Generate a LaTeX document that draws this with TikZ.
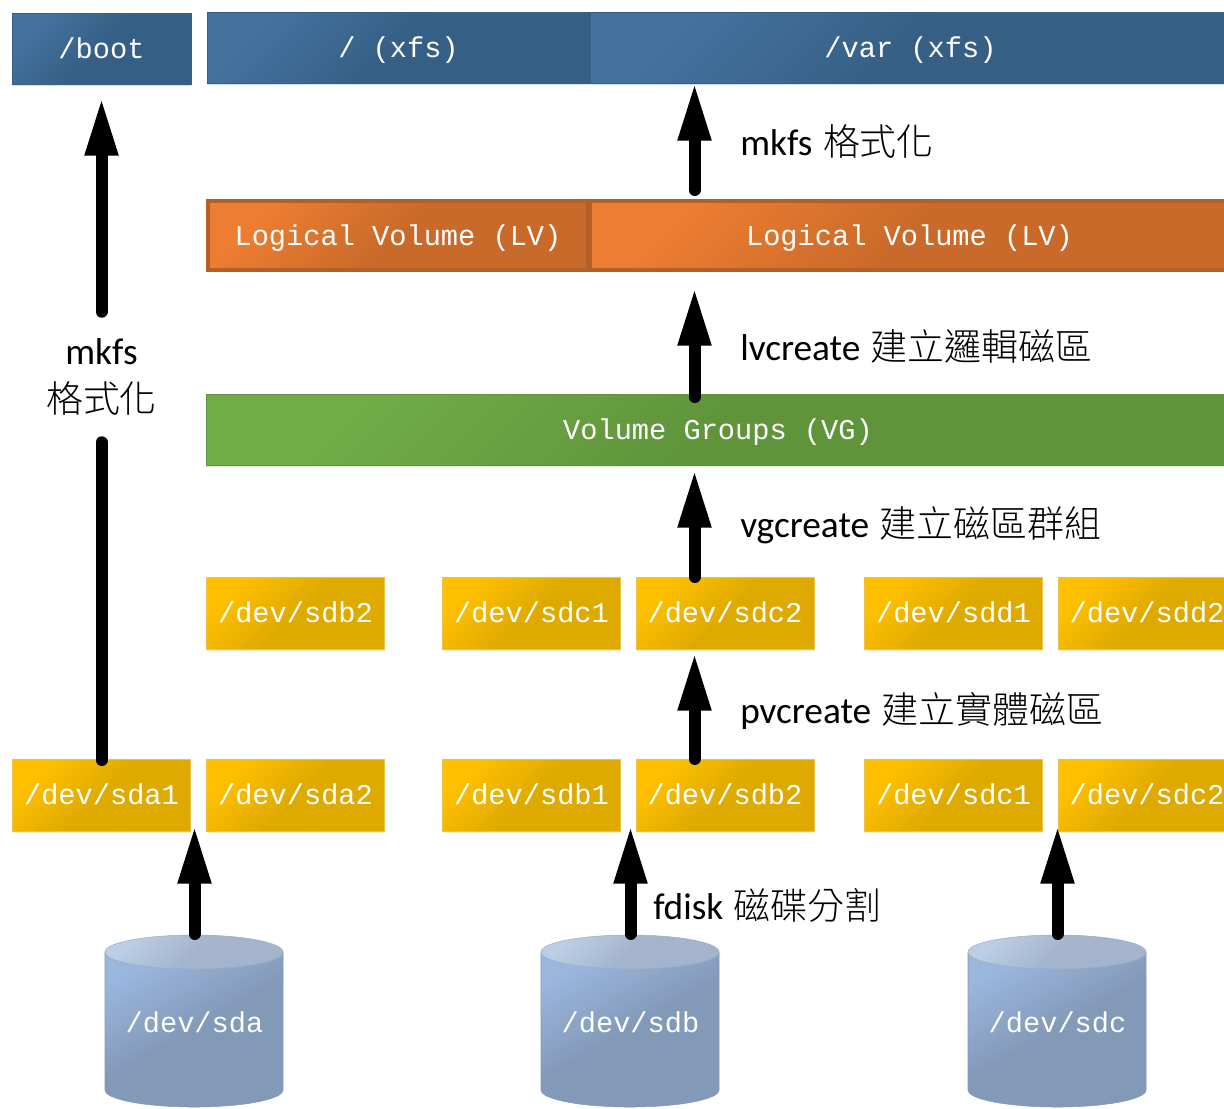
\documentclass[tikz,border=0pt]{standalone}
\usepackage{fontspec}
\setmainfont{Carlito}
\newfontfamily\monofont{Liberation Mono}
\newfontfamily\cjk{Noto Sans CJK TC Light}
\newcommand{\zh}[1]{\hspace{1.5pt}{\cjk\fontsize{27.7}{33}\selectfont #1}}
\usetikzlibrary{arrows.meta}
\usetikzlibrary{shadows}

\definecolor{BlueLight}{HTML}{44729F}
\definecolor{BlueDark}{HTML}{355F85}
\definecolor{OrangeLight}{HTML}{ED7D31}
\definecolor{OrangeDark}{HTML}{C96A2A}
\definecolor{OrangeEdge}{HTML}{B25F28}
\definecolor{GreenLight}{HTML}{70AD47}
\definecolor{GreenDark}{HTML}{5F943B}
\definecolor{YellowLight}{HTML}{FFC000}
\definecolor{YellowDark}{HTML}{DFAA00}
\definecolor{DiskLight}{HTML}{9AB6DD}
\definecolor{DiskDark}{HTML}{8399B8}
\definecolor{DiskTopLight}{HTML}{BCCEE6}
\definecolor{DiskTopDark}{HTML}{A3B4CC}

\tikzset{
    boxtext/.style = {text = white, inner sep = 0pt, text height = 14.5pt, text depth = 0pt, font = \monofont\fontsize{21.5}{25}\selectfont},
    softshadow/.style = {drop shadow = {shadow xshift = 0pt, shadow yshift = -1.5pt, opacity = 0.2, fill = #1}},
    fsbox/.style = {boxtext, softshadow = BlueDark, draw = BlueDark, top color = BlueLight, bottom color = BlueDark, middle color = BlueDark, shading angle = 45, minimum height = 53pt},
    lvbox/.style = {boxtext, softshadow = OrangeDark, draw = OrangeEdge, line width = 3pt, top color = OrangeLight, bottom color = OrangeDark, middle color = OrangeDark, shading angle = 45, minimum height = 52pt},
    vgbox/.style = {boxtext, softshadow = GreenDark, draw = GreenDark, top color = GreenLight, bottom color = GreenDark, middle color = GreenDark, shading angle = 45, minimum height = 53pt},
    partbox/.style = {boxtext, softshadow = YellowDark, draw = YellowDark!70!white, top color = YellowLight, bottom color = YellowDark, middle color = YellowDark, shading angle = 45, minimum width = 133.5pt, minimum height = 54pt},
    diskbody/.style = {draw = DiskDark, top color = DiskLight, bottom color = DiskDark, middle color = DiskDark, shading angle = 30},
    disktop/.style = {draw = DiskDark!80!white, top color = DiskTopLight, bottom color = DiskTopDark, middle color = DiskTopDark, shading angle = 45},
    disktext/.style = {boxtext},
    steplabel/.style = {anchor = west, inner sep = 0pt, font = \fontsize{28}{33}\selectfont},
    bigline/.style = {line width = 9pt, line cap = round},
    bigarrow/.style = {bigline, -{Triangle[length = 41pt, width = 26pt, line width = 0pt]}}
}

\begin{document}
\begin{tikzpicture}[x = 0.75pt, y = -0.75pt]
    \clip (0, 0) rectangle (1224, 1108);
    \fill [white] (0, 0) rectangle (1224, 1108);

    % file systems
    \node [fsbox, minimum width = 134pt] (boot) at (101.5, 49) {/boot};
    \node [fsbox, minimum width = 287pt] (root) at (398.5, 47.5) {/ (xfs)};
    \node [fsbox, minimum width = 480pt] (var) at (910.5, 47.5) {/var (xfs)};

    % logical volumes and the volume group
    \node [lvbox, minimum width = 285pt] (lvroot) at (398, 235.5) {Logical Volume (LV)\hspace{6pt}};
    \node [lvbox, minimum width = 480pt] (lvvar) at (909.5, 235.5) {Logical Volume (LV)};
    \node [vgbox, minimum width = 768pt] (vg) at (718, 429.5) {Volume Groups (VG)};

    % physical volumes
    \node [partbox] (pvb) at (295.5, 613) {/dev/sdb2};
    \node [partbox] (pvca) at (531.5, 613) {/dev/sdc1};
    \node [partbox] (pvcb) at (725, 613) {/dev/sdc2};
    \node [partbox] (pvda) at (953.5, 613) {/dev/sdd1};
    \node [partbox] (pvdb) at (1147, 613) {/dev/sdd2};

    % partitions
    \node [partbox] (sdaa) at (101.5, 795) {/dev/sda1};
    \node [partbox] (sdab) at (295.5, 795) {/dev/sda2};
    \node [partbox] (sdba) at (531.5, 795) {/dev/sdb1};
    \node [partbox] (sdbb) at (725, 795) {/dev/sdb2};
    \node [partbox] (sdca) at (953.5, 795) {/dev/sdc1};
    \node [partbox] (sdcb) at (1147, 795) {/dev/sdc2};

    % disks
    \path [diskbody] (105, 952) -- (105, 1090) arc [start angle = 180, end angle = 0, x radius = 89, y radius = 17] -- (283, 952) -- cycle;
    \path [disktop] (194, 952) ellipse [x radius = 89, y radius = 17];
    \node [disktext] (sda) at (194.5, 1023) {/dev/sda};
    \path [diskbody] (541, 952) -- (541, 1090) arc [start angle = 180, end angle = 0, x radius = 89, y radius = 17] -- (719, 952) -- cycle;
    \path [disktop] (630, 952) ellipse [x radius = 89, y radius = 17];
    \node [disktext] (sdb) at (630.5, 1023) {/dev/sdb};
    \path [diskbody] (968, 952) -- (968, 1090) arc [start angle = 180, end angle = 0, x radius = 89, y radius = 17] -- (1146, 952) -- cycle;
    \path [disktop] (1057, 952) ellipse [x radius = 89, y radius = 17];
    \node [disktext] (sdc) at (1057.5, 1023) {/dev/sdc};

    % arrow ends
    \coordinate (bootin) at (101.5, 101);
    \coordinate (bootout) at (101.5, 760);
    \coordinate (mkfsin) at (694.5, 86);
    \coordinate (mkfsout) at (694.5, 190);
    \coordinate (lvin) at (694.5, 291);
    \coordinate (lvout) at (694.5, 397);
    \coordinate (vgin) at (694.5, 473);
    \coordinate (vgout) at (694.5, 577);
    \coordinate (pvin) at (694.5, 656);
    \coordinate (pvout) at (694.5, 759);
    \coordinate (sdain) at (194.5, 829);
    \coordinate (sdaout) at (194.5, 934);
    \coordinate (sdbin) at (630.5, 829);
    \coordinate (sdbout) at (630.5, 934);
    \coordinate (sdcin) at (1057.5, 829);
    \coordinate (sdcout) at (1057.5, 934);

    % steps
    \node [inner sep = 0pt, minimum height = 97.5pt, align = center, font = \fontsize{28}{35.5}\selectfont] (mkfsleft) at (101.5, 377) {mkfs\\{\cjk\fontsize{27.7}{35.5}\selectfont 格式化}};
    \draw [bigline] (bootout) -- (mkfsleft.south);
    \draw [bigarrow] (mkfsleft.north) -- (bootin);
    \draw [bigarrow] (mkfsout) -- (mkfsin);
    \draw [bigarrow] (lvout) -- (lvin);
    \draw [bigarrow] (vgout) -- (vgin);
    \draw [bigarrow] (pvout) -- (pvin);
    \draw [bigarrow] (sdaout) -- (sdain);
    \draw [bigarrow] (sdbout) -- (sdbin);
    \draw [bigarrow] (sdcout) -- (sdcin);
    \node [steplabel] (mkfslabel) at (740, 141) {mkfs \zh{格式化}};
    \node [steplabel] (lvlabel) at (740, 346) {lvcreate \zh{建立邏輯磁區}};
    \node [steplabel] (vglabel) at (740, 525) {vgcreate \zh{建立磁區群組}};
    \node [steplabel] (pvlabel) at (740, 711) {pvcreate \zh{建立實體磁區}};
    \node [steplabel] (fdisklabel) at (653, 905) {fdisk \zh{磁碟分割}};
\end{tikzpicture}
\end{document}
